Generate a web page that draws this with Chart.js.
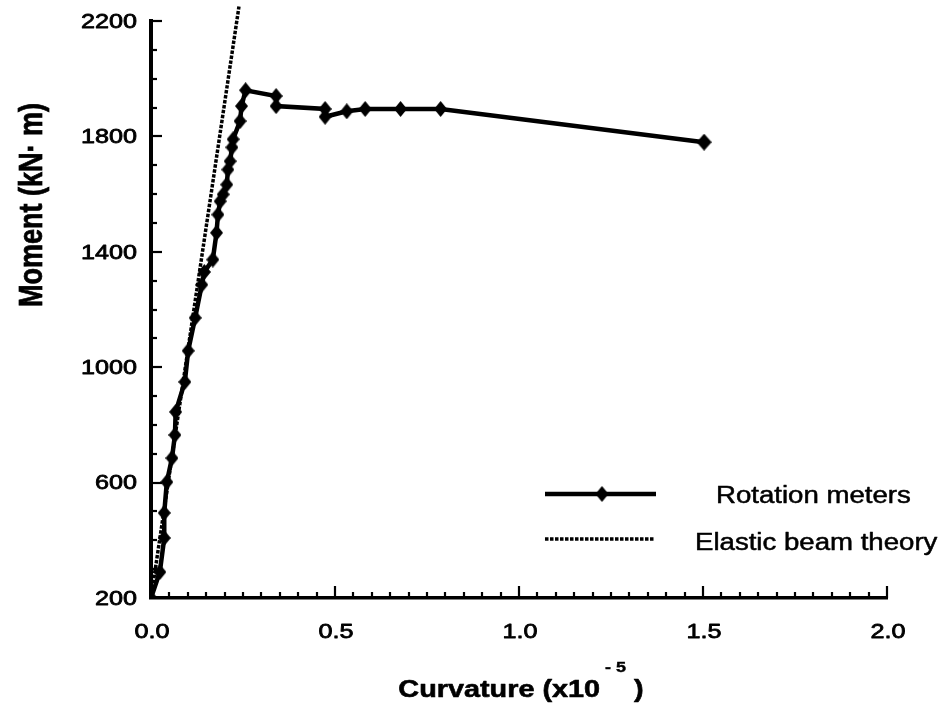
<!DOCTYPE html>
<html><head><meta charset="utf-8">
<script src="https://cdn.jsdelivr.net/npm/chart.js@4.4.1/dist/chart.umd.min.js"></script>
<style>html,body{margin:0;padding:0;background:#fff;}canvas{display:block;}</style>
</head><body>
<canvas id="c" width="944" height="706"></canvas>
<script>
// ---- data ----
const rotationX = [0, 0.024, 0.036, 0.036, 0.043, 0.057, 0.065, 0.067, 0.092, 0.101, 0.120, 0.138, 0.145, 0.168, 0.178, 0.182, 0.188, 0.196, 0.206, 0.209, 0.215, 0.220, 0.223, 0.242, 0.246, 0.257, 0.34, 0.34, 0.473, 0.473, 0.532, 0.582, 0.678, 0.787, 1.503];
const rotationY = [200, 290, 408, 495, 602, 685, 765, 845, 949, 1057, 1171, 1286, 1330, 1373, 1466, 1529, 1575, 1599, 1633, 1685, 1714, 1762, 1790, 1853, 1905, 1960, 1940, 1905, 1895, 1868, 1887, 1895, 1895, 1895, 1780];
const elasticX = [0, 0.239];
const elasticY = [200, 2250];
const xTickLabels = ['0.0', '0.5', '1.0', '1.5', '2.0'];
const yTickLabels = ['200', '600', '1000', '1400', '1800', '2200'];
const seriesNames = ['Rotation meters', 'Elastic beam theory'];
const xTitleMain = 'Curvature (x10';
const xTitleSup = '- 5';
const xTitleEnd = ' )';
const yTitle = 'Moment (kN\u00B7 m)';

const FONT = '"Liberation Sans", Arial, Helvetica, sans-serif';
const SX = 1.2; // horizontal stretch of the scanned original

function diamond(w, h) {
  const c = document.createElement('canvas');
  c.width = w; c.height = h;
  const g = c.getContext('2d');
  g.beginPath();
  g.moveTo(w / 2, 0); g.lineTo(w, h / 2); g.lineTo(w / 2, h); g.lineTo(0, h / 2);
  g.closePath(); g.fillStyle = '#000'; g.fill();
  return c;
}
const smallD = diamond(13, 16);
const bigD = diamond(15, 17);

function stext(ctx, text, x, y, font, align, baseline, thick) {
  ctx.save();
  ctx.translate(x, y);
  ctx.scale(SX, 1);
  ctx.font = font;
  ctx.fillStyle = '#000';
  ctx.strokeStyle = '#000';
  ctx.textAlign = align;
  ctx.textBaseline = baseline;
  ctx.fillText(text, 0, 0);
  if (thick) { ctx.lineWidth = thick; ctx.lineJoin = 'round'; ctx.strokeText(text, 0, 0); }
  ctx.restore();
}
function swidth(ctx, text, font) {
  ctx.save(); ctx.font = font; const w = ctx.measureText(text).width; ctx.restore();
  return w * SX;
}

const decor = {
  id: 'decor',
  afterDraw(chart) {
    const ctx = chart.ctx;
    const xs = chart.scales.x, ys = chart.scales.y;
    const ca = chart.chartArea;
    ctx.save();
    ctx.strokeStyle = '#000';
    ctx.lineCap = 'butt';
    // inward ticks, x axis: minor every 0.05, major every 0.5
    ctx.lineWidth = 2.2;
    const nx = Math.round((xs.max - xs.min) / 0.05);
    for (let i = 1; i <= nx; i++) {
      const v = xs.min + i * 0.05;
      const px = Math.round(xs.getPixelForValue(v));
      const L = (i % 10 === 0) ? 12 : 6;
      ctx.beginPath(); ctx.moveTo(px, ca.bottom); ctx.lineTo(px, ca.bottom - L); ctx.stroke();
    }
    // y axis: minor every 100, major every 400
    const ny = Math.round((ys.max - ys.min) / 100);
    for (let i = 1; i <= ny; i++) {
      const v = ys.min + i * 100;
      const py = Math.round(ys.getPixelForValue(v));
      const L = (i % 4 === 0) ? 11 : 6;
      ctx.beginPath(); ctx.moveTo(ca.left, py); ctx.lineTo(ca.left + L, py); ctx.stroke();
    }
    // tick labels
    const tickFont = '21px ' + FONT;
    xTickLabels.forEach(t => {
      stext(ctx, t, xs.getPixelForValue(parseFloat(t)) + 1, ca.bottom + 34, tickFont, 'center', 'middle', 0.8);
    });
    yTickLabels.forEach(t => {
      stext(ctx, t, ca.left - 14, ys.getPixelForValue(parseFloat(t)) + 1, tickFont, 'right', 'middle', 0.8);
    });
    // x title with superscript
    const fMain = 'bold 24px ' + FONT, fSup = 'bold 15px ' + FONT;
    const w1 = swidth(ctx, xTitleMain, fMain), w2 = swidth(ctx, xTitleSup, fSup), w3 = swidth(ctx, xTitleEnd, fMain);
    const gap = 5;
    const total = w1 + gap + w2 + w3;
    let x0 = (ca.left + ca.right) / 2 + 2 - total / 2;
    const base = 697;
    stext(ctx, xTitleMain, x0, base, fMain, 'left', 'alphabetic', 0.6);
    stext(ctx, xTitleSup, x0 + w1 + gap, base - 25, fSup, 'left', 'alphabetic', 0.4);
    stext(ctx, xTitleEnd, x0 + w1 + gap + w2, base, fMain, 'left', 'alphabetic', 0.6);
    // y title (rotated)
    ctx.save();
    ctx.translate(33, 205);
    ctx.scale(SX, 1);
    ctx.rotate(-Math.PI / 2);
    ctx.font = 'bold 27px ' + FONT;
    ctx.fillStyle = '#000';
    ctx.strokeStyle = '#000';
    ctx.lineWidth = 0.6;
    ctx.textAlign = 'center';
    ctx.textBaseline = 'middle';
    ctx.fillText(yTitle, 0, 0);
    ctx.strokeText(yTitle, 0, 0);
    ctx.restore();
    // legend
    const d0 = chart.data.datasets[0], d1 = chart.data.datasets[1];
    const lx1 = 545, lx2 = 656;
    ctx.lineWidth = d0.borderWidth; ctx.setLineDash([]);
    ctx.beginPath(); ctx.moveTo(lx1, 494); ctx.lineTo(lx2, 494); ctx.stroke();
    ctx.drawImage(smallD, 602 - smallD.width / 2, 494 - smallD.height / 2);
    ctx.lineWidth = d1.borderWidth; ctx.setLineDash(d1.borderDash);
    ctx.beginPath(); ctx.moveTo(lx1, 539); ctx.lineTo(lx2 - 1, 539); ctx.stroke();
    ctx.setLineDash([]);
    const lf = '23px ' + FONT;
    stext(ctx, seriesNames[0], 716, 497, lf, 'left', 'middle', 0.5);
    stext(ctx, seriesNames[1], 695, 544, lf, 'left', 'middle', 0.5);
    ctx.restore();
  }
};

new Chart(document.getElementById('c').getContext('2d'), {
  type: 'line',
  data: {
    datasets: [
      {
        label: seriesNames[0],
        data: rotationX.map((x, i) => ({ x: x, y: rotationY[i] })),
        borderColor: '#000', backgroundColor: '#000', borderWidth: 4.5,
        pointStyle: c => (c.dataIndex === rotationX.length - 1 ? bigD : smallD),
        pointRadius: 7, pointHoverRadius: 7,
        tension: 0, fill: false, order: 1
      },
      {
        label: seriesNames[1],
        data: elasticX.map((x, i) => ({ x: x, y: elasticY[i] })),
        borderColor: '#000', borderWidth: 3.5, borderDash: [3.5, 1.5],
        pointRadius: 0, tension: 0, fill: false, clip: false, order: 2
      }
    ]
  },
  options: {
    responsive: false, animation: false, devicePixelRatio: 1, events: [],
    layout: { padding: { top: 21, right: 57, left: 0, bottom: 0 } },
    plugins: { legend: { display: false }, tooltip: { enabled: false } },
    scales: {
      x: {
        type: 'linear', min: parseFloat(xTickLabels[0]), max: parseFloat(xTickLabels[xTickLabels.length - 1]),
        ticks: { display: false, stepSize: 0.5 },
        grid: { display: false, drawTicks: false },
        border: { display: true, color: '#000', width: 3.5 },
        afterFit: s => { s.height = 108; }
      },
      y: {
        type: 'linear', min: parseFloat(yTickLabels[0]), max: parseFloat(yTickLabels[yTickLabels.length - 1]),
        ticks: { display: false, stepSize: 400 },
        grid: { display: false, drawTicks: false },
        border: { display: true, color: '#000', width: 4 },
        afterFit: s => { s.width = 151; }
      }
    }
  },
  plugins: [decor]
});
</script>
</body></html>
